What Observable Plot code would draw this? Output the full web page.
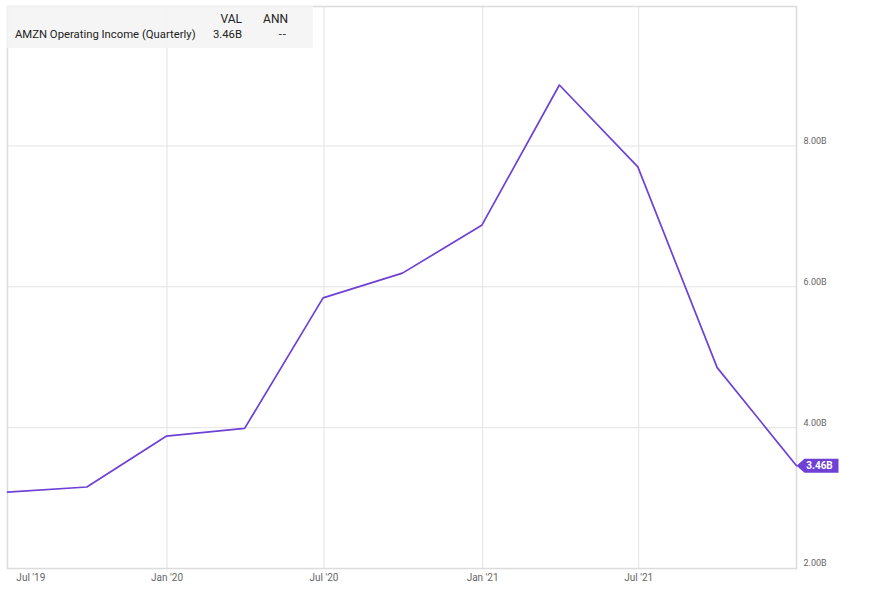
<!DOCTYPE html>
<html>
<head>
<meta charset="utf-8">
<script src="https://cdn.jsdelivr.net/npm/d3@7"></script>
<script src="https://cdn.jsdelivr.net/npm/@observablehq/plot@0.6"></script>
<style>
  body { margin: 0; background: #fff; font-family: Roboto, "Noto Sans", sans-serif; }
  #wrap { position: relative; width: 874px; height: 589px; }
  #legend { position: absolute; left: 7px; top: 6px; width: 306px; height: 42px;
    background: rgba(244,244,244,0.88); font-size: 11.3px; color: #222; }
  #legend span { position: absolute; white-space: nowrap; line-height: 14px; }
</style>
</head>
<body>
<div id="wrap">
  <div id="chart"></div>
  <div id="legend">
    <span style="right:71px; top:6px; font-size:12px;">VAL</span>
    <span style="right:25px; top:6px; font-size:12px;">ANN</span>
    <span style="left:8px; top:22px;">AMZN Operating Income (Quarterly)</span>
    <span style="right:71px; top:22px;">3.46B</span>
    <span style="right:26px; top:22px; letter-spacing:1px; font-feature-settings:'liga' 0;">--</span>
  </div>
</div>
<script>
// Quarter-end dates and AMZN operating income (billions USD)
const quarters = ["2019-06-30","2019-09-30","2019-12-31","2020-03-31","2020-06-30","2020-09-30","2020-12-31","2021-03-31","2021-06-30","2021-09-30","2021-12-31"];
const income = [3.084, 3.157, 3.879, 3.989, 5.843, 6.194, 6.873, 8.865, 7.702, 4.852, 3.460];
const xTickDates = ["2019-07-01","2020-01-01","2020-07-01","2021-01-01","2021-07-01"];
const xTickLabels = ["Jul '19","Jan '20","Jul '20","Jan '21","Jul '21"];
const yTicks = [2, 4, 6, 8];
const yTickLabels = ["2.00B","4.00B","6.00B","8.00B"];
const lastLabel = "3.46B";

const data = quarters.map((q, i) => ({date: new Date(q + "T00:00:00Z"), value: income[i]}));
const xTicks = xTickDates.map(d => new Date(d + "T00:00:00Z"));
const xLabelOf = d => xTickLabels[xTicks.findIndex(t => +t === +d)];
const yLabelOf = v => yTickLabels[yTicks.indexOf(v)];
const last = data[data.length - 1];

const purple = "#6e40d6";
const tagSymbol = {
  draw(ctx) {
    ctx.moveTo(0, 0);
    ctx.lineTo(8, -7);
    ctx.lineTo(42, -7);
    ctx.lineTo(42, 7);
    ctx.lineTo(8, 7);
    ctx.closePath();
  }
};

const chart = Plot.plot({
  width: 874,
  height: 589,
  marginLeft: 7,
  marginRight: 78,
  marginTop: 6,
  marginBottom: 21,
  style: {fontFamily: "Roboto, sans-serif", background: "#fff"},
  x: {type: "utc", domain: [data[0].date, last.date]},
  y: {domain: [2, 9.98]},
  marks: [
    Plot.gridX(xTicks.slice(1), {stroke: "#e3e3e3", strokeOpacity: 1, strokeWidth: 1}),
    Plot.gridY(yTicks.slice(1), {stroke: "#e3e3e3", strokeOpacity: 1, strokeWidth: 1}),
    Plot.frame({stroke: "#dcdcdc", strokeWidth: 1.5}),
    Plot.axisX(xTicks.slice(0, 1), {tickSize: 0, tickPadding: 5, tickFormat: xLabelOf, textAnchor: "start", dx: 8, fontSize: 10, fill: "#666"}),
    Plot.axisX(xTicks.slice(1), {tickSize: 0, tickPadding: 5, tickFormat: xLabelOf, fontSize: 10, fill: "#666"}),
    Plot.axisY(yTicks, {anchor: "right", tickSize: 0, tickPadding: 7, tickFormat: yLabelOf, dy: -5, fontSize: 9, fill: "#666", label: null}),
    Plot.line(data, {x: "date", y: "value", stroke: purple, strokeWidth: 1.7}),
    Plot.dot([last], {x: "date", y: "value", symbol: tagSymbol, fill: purple, stroke: "none", r: 5}),
    Plot.text([last], {x: "date", y: "value", text: () => lastLabel, dx: 23, fill: "#fff", fontWeight: "bold", fontSize: 10})
  ]
});
document.getElementById("chart").appendChild(chart);
</script>
</body>
</html>
